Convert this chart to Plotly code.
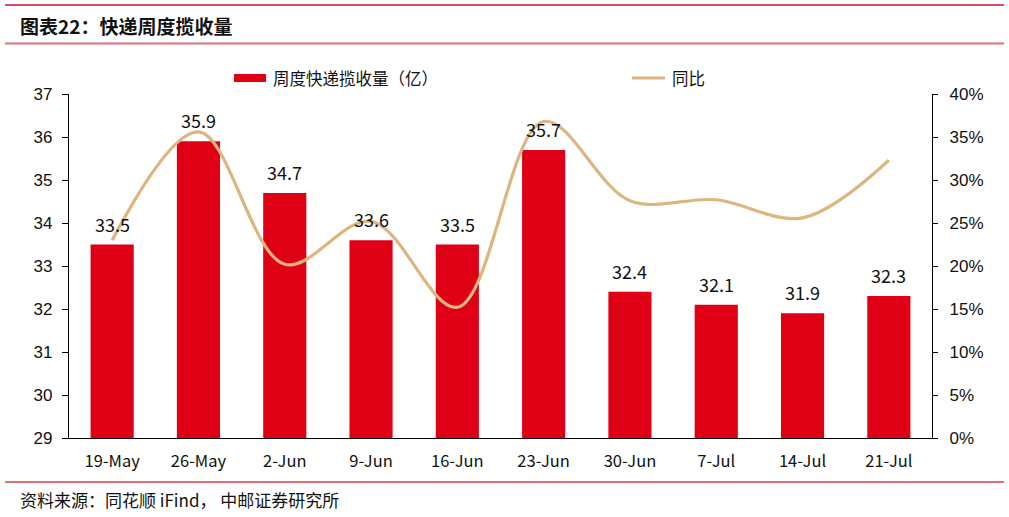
import plotly.graph_objects as go

categories = ["19-May", "26-May", "2-Jun", "9-Jun", "16-Jun", "23-Jun", "30-Jun", "7-Jul", "14-Jul", "21-Jul"]
volume = [33.5, 35.9, 34.7, 33.6, 33.5, 35.7, 32.4, 32.1, 31.9, 32.3]
yoy = [23.0, 35.6, 20.2, 25.2, 15.2, 36.8, 27.6, 27.7, 25.6, 32.3]
left_ticks = [29, 30, 31, 32, 33, 34, 35, 36, 37]
right_ticks = [0, 5, 10, 15, 20, 25, 30, 35, 40]

W, H = 1009, 517
L, R, T, B = 69, 932, 94, 438
PW, PH = R - L, B - T

def px(x):
    return (x - L) / PW

def py(y):
    return (B - y) / PH

BAR = "#E00016"
LINE = "#DDB57E"
CJK = "Noto Sans CJK SC"
NUM = "Liberation Sans, Arial"

fig = go.Figure()
fig.add_trace(go.Bar(
    x=categories, y=volume, marker_color=BAR, marker_line_width=0,
    name="周度快递揽收量（亿）", showlegend=False,
))
fig.add_trace(go.Scatter(
    x=categories, y=yoy, yaxis="y2", mode="lines",
    line=dict(color=LINE, width=3.2, shape="spline", smoothing=1.0),
    name="同比", showlegend=False,
))

shapes = [
    dict(type="line", xref="paper", yref="paper", x0=px(5), x1=px(1004), y0=py(5), y1=py(5),
         line=dict(color="#C8102E", width=1.5)),
    dict(type="line", xref="paper", yref="paper", x0=px(5), x1=px(1004), y0=py(43.5), y1=py(43.5),
         line=dict(color="#E07078", width=2)),
    dict(type="line", xref="paper", yref="paper", x0=px(5), x1=px(1004), y0=py(482), y1=py(482),
         line=dict(color="#D84048", width=1.5)),
    # legend swatches
    dict(type="rect", xref="paper", yref="paper", x0=px(234), x1=px(266), y0=py(82), y1=py(74),
         fillcolor=BAR, line=dict(width=0)),
    dict(type="line", xref="paper", yref="paper", x0=px(632), x1=px(665), y0=py(78), y1=py(78),
         line=dict(color=LINE, width=3)),
]

annotations = [
    dict(text="<b>图表22：快递周度揽收量</b>", xref="paper", yref="paper", x=px(18), y=py(25),
         xanchor="left", yanchor="middle", showarrow=False,
         font=dict(family=CJK, size=19, color="#111")),
    dict(text="资料来源：同花顺 iFind， 中邮证券研究所", xref="paper", yref="paper", x=px(18), y=py(499),
         xanchor="left", yanchor="middle", showarrow=False,
         font=dict(family=CJK, size=17, color="#111")),
    dict(text="周度快递揽收量（亿）", xref="paper", yref="paper", x=px(271), y=py(78),
         xanchor="left", yanchor="middle", showarrow=False,
         font=dict(family=CJK, size=16.5, color="#111")),
    dict(text="同比", xref="paper", yref="paper", x=px(670), y=py(78),
         xanchor="left", yanchor="middle", showarrow=False,
         font=dict(family=CJK, size=16.5, color="#111")),
]

for c, v in zip(categories, volume):
    annotations.append(dict(
        text=f"{v:.1f}", x=c, y=v, xref="x", yref="y", yshift=21,
        xanchor="center", yanchor="middle", showarrow=False,
        font=dict(family=CJK, size=18, color="#111"),
    ))

fig.update_layout(
    width=W, height=H,
    margin=dict(l=L, r=W - R, t=T, b=H - B, pad=0),
    paper_bgcolor="white", plot_bgcolor="white",
    bargap=0.5, showlegend=False,
    shapes=shapes, annotations=annotations,
    xaxis=dict(
        type="category", showline=True, linecolor="#000", linewidth=1.3,
        ticks="", showgrid=False, tickfont=dict(family=CJK, size=16.5, color="#111"),
        ticklabelstandoff=8,
    ),
    yaxis=dict(
        range=[29, 37], tickvals=left_ticks, showline=True, linecolor="#000", linewidth=1.3,
        ticks="outside", ticklen=6, tickcolor="#000", showgrid=False, zeroline=False,
        tickfont=dict(family=NUM, size=17, color="#111"), ticklabelstandoff=6,
    ),
    yaxis2=dict(
        range=[0, 40], tickvals=right_ticks, ticktext=[f"{v}%" for v in right_ticks],
        overlaying="y", side="right", showline=True, linecolor="#000", linewidth=1.3,
        ticks="outside", ticklen=5, tickcolor="#000", showgrid=False, zeroline=False,
        tickfont=dict(family=NUM, size=17, color="#111"), ticklabelstandoff=8,
    ),
)

fig.write_html("out.html")
